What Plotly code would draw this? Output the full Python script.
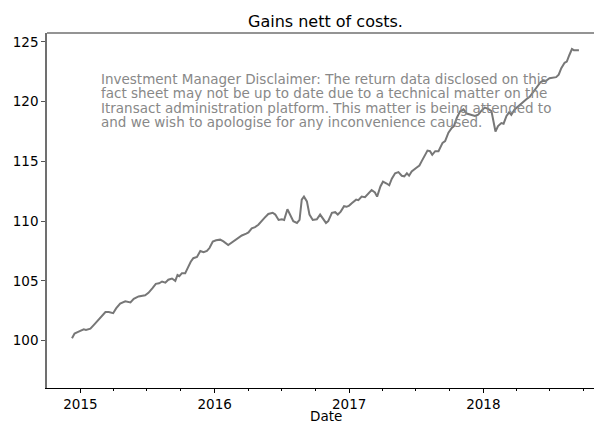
import plotly.graph_objects as go

dates = [
    "2014-12-09", "2014-12-16", "2014-12-27", "2015-01-10", "2015-01-16", "2015-01-28",
    "2015-02-06", "2015-02-15", "2015-02-24", "2015-03-10", "2015-03-19", "2015-03-31",
    "2015-04-08", "2015-04-19", "2015-05-03", "2015-05-17", "2015-05-26", "2015-06-08",
    "2015-06-26", "2015-07-05", "2015-07-16", "2015-07-25", "2015-08-03", "2015-08-11",
    "2015-08-20", "2015-08-28", "2015-09-07", "2015-09-16", "2015-09-22", "2015-09-27",
    "2015-10-04", "2015-10-13", "2015-10-17", "2015-10-28", "2015-11-04", "2015-11-14",
    "2015-11-23", "2015-12-02", "2015-12-11", "2015-12-18", "2015-12-27", "2016-01-05",
    "2016-01-16", "2016-01-25", "2016-02-07", "2016-02-17", "2016-02-26", "2016-03-06",
    "2016-03-15", "2016-03-27", "2016-04-02", "2016-04-11", "2016-04-20", "2016-04-29",
    "2016-05-04", "2016-05-15", "2016-05-26", "2016-06-07", "2016-06-14", "2016-06-23",
    "2016-07-02", "2016-07-08", "2016-07-17", "2016-07-24", "2016-08-02", "2016-08-12",
    "2016-08-19", "2016-08-25", "2016-08-31", "2016-09-08", "2016-09-15", "2016-09-24",
    "2016-10-05", "2016-10-14", "2016-10-21", "2016-10-30", "2016-11-05", "2016-11-15",
    "2016-11-24", "2016-12-01", "2016-12-09", "2016-12-18", "2016-12-25", "2017-01-01",
    "2017-01-08", "2017-01-20", "2017-01-26", "2017-02-04", "2017-02-13", "2017-02-22",
    "2017-03-03", "2017-03-12", "2017-03-18", "2017-03-27", "2017-04-03", "2017-04-13",
    "2017-04-20", "2017-04-27", "2017-05-06", "2017-05-15", "2017-05-24", "2017-05-31",
    "2017-06-07", "2017-06-13", "2017-06-20", "2017-07-02", "2017-07-11", "2017-07-17",
    "2017-07-26", "2017-08-02", "2017-08-09", "2017-08-15", "2017-08-23", "2017-09-01",
    "2017-09-12", "2017-09-19", "2017-09-28", "2017-10-07", "2017-10-13", "2017-10-21",
    "2017-10-30", "2017-11-08", "2017-11-17", "2017-11-30", "2017-12-09", "2017-12-18",
    "2017-12-27", "2018-01-05", "2018-01-14", "2018-01-23", "2018-01-30", "2018-02-03",
    "2018-02-10", "2018-02-19", "2018-02-25", "2018-03-05", "2018-03-12", "2018-03-18",
    "2018-03-27", "2018-04-05", "2018-04-17", "2018-04-28", "2018-05-07", "2018-05-21",
    "2018-05-30", "2018-06-05", "2018-06-12", "2018-06-19", "2018-06-30", "2018-07-09",
    "2018-07-18", "2018-07-25", "2018-08-01", "2018-08-10", "2018-08-16", "2018-08-23",
    "2018-08-30", "2018-09-04", "2018-09-12", "2018-09-18",
]

gains = [
    100.2, 100.6, 100.75, 100.95, 100.9, 101.0,
    101.3, 101.6, 101.9, 102.4, 102.4, 102.3,
    102.7, 103.1, 103.3, 103.2, 103.5, 103.7,
    103.8, 104.0, 104.4, 104.75, 104.8, 104.95,
    104.85, 105.1, 105.2, 105.0, 105.5, 105.4,
    105.65, 105.65, 105.9, 106.6, 106.9, 107.0,
    107.5, 107.4, 107.5, 107.75, 108.3, 108.4,
    108.45, 108.3, 108.0, 108.2, 108.45, 108.6,
    108.8, 108.95, 109.05, 109.4, 109.5, 109.7,
    109.9, 110.25, 110.6, 110.7, 110.55, 110.1,
    110.15, 110.1, 111.0, 110.55, 110.0, 109.85,
    110.1, 111.8, 112.05, 111.65, 110.55, 110.1,
    110.15, 110.55, 110.25, 109.85, 110.0, 110.7,
    110.75, 110.55, 110.8, 111.25, 111.2, 111.3,
    111.5, 111.8, 111.75, 112.05, 112.0, 112.3,
    112.6, 112.4, 112.05, 112.9, 113.3, 113.15,
    113.0, 113.55, 114.0, 114.1, 113.8, 113.75,
    114.0, 113.8, 114.15, 114.45, 114.65, 115.0,
    115.55, 115.9, 115.85, 115.55, 115.85, 115.85,
    116.55, 116.7, 117.4, 117.8, 117.95, 118.65,
    119.2, 119.35, 119.0, 118.9, 118.8, 118.9,
    119.25, 119.5, 119.4, 119.2, 118.2, 117.5,
    117.95, 118.2, 118.15, 118.8, 119.1, 118.9,
    119.35, 119.6, 119.9, 120.2, 120.4, 121.0,
    121.3, 121.6, 121.75, 121.7, 121.95, 122.0,
    122.05, 122.25, 122.8, 123.25, 123.35, 123.9,
    124.4, 124.3, 124.3, 124.3,
]

y_ticks = [100, 105, 110, 115, 120, 125]
x_tick_vals = ["2015-01-01", "2016-01-01", "2017-01-01", "2018-01-01"]
x_tick_text = ["2015", "2016", "2017", "2018"]

title_text = "Gains nett of costs."
x_label = "Date"
disclaimer_lines = [
    "Investment Manager Disclaimer: The return data disclosed on this",
    "fact sheet may not be up to date due to a technical matter on the",
    "Itransact administration platform. This matter is being attended to",
    "and we wish to apologise for any inconvenience caused.",
]

FONT = "DejaVu Sans"
FS = 13.5

fig = go.Figure()
fig.add_trace(go.Scatter(
    x=dates, y=gains, mode="lines",
    line=dict(color="#777777", width=2),
    showlegend=False, hoverinfo="skip",
))

W, H = 594, 425
ml, mr, mt, mb = 47, 0, 33, 37

fig.update_layout(
    width=W, height=H,
    margin=dict(l=ml, r=mr, t=mt, b=mb, autoexpand=False),
    paper_bgcolor="white", plot_bgcolor="white",
    font=dict(family=FONT, size=FS, color="black"),
    showlegend=False,
)

fig.update_xaxes(
    type="date",
    range=["2014-10-02", "2018-10-29"],
    tickvals=x_tick_vals, ticktext=x_tick_text,
    ticks="outside", ticklen=4, tickwidth=1, tickcolor="black",
    showline=True, linecolor="black", linewidth=1.2,
    showgrid=False, zeroline=False, automargin=False,
    tickfont=dict(family=FONT, size=FS, color="black"),
    minor=dict(ticks="outside", ticklen=2, tickwidth=1, tickcolor="black",
               dtick="M3", tick0="2015-01-01", showgrid=False),
)
fig.update_yaxes(
    range=[96.04, 125.74],
    tickvals=y_ticks,
    ticks="outside", ticklen=4, tickwidth=1, tickcolor="#555555",
    showline=True, linecolor="#707070", linewidth=1.5,
    showgrid=False, zeroline=False, automargin=False,
    tickfont=dict(family=FONT, size=FS, color="black"),
)

# top spine (gray)
fig.add_shape(type="line", xref="paper", yref="paper", x0=0, x1=1, y0=1, y1=1,
              line=dict(color="#707070", width=1.5))

plot_w = W - ml - mr

# title
fig.add_annotation(text=title_text, xref="paper", yref="paper",
                   x=(325 - ml) / plot_w, y=1, yshift=(mt - 21),
                   xanchor="center", yanchor="middle", showarrow=False,
                   font=dict(family=FONT, size=16, color="black"))

# x-axis label
fig.add_annotation(text=x_label, xref="paper", yref="paper",
                   x=(325.5 - ml) / plot_w, y=0, yshift=-28,
                   xanchor="center", yanchor="middle", showarrow=False,
                   font=dict(family=FONT, size=FS, color="black"))

# disclaimer lines
line_centers = [79, 93.4, 107.8, 122.2]
for txt, cy in zip(disclaimer_lines, line_centers):
    fig.add_annotation(text=txt, xref="paper", yref="paper",
                       x=(99 - ml) / plot_w, y=1, yshift=-(cy - mt),
                       xanchor="left", yanchor="middle", showarrow=False,
                       font=dict(family=FONT, size=FS, color="#888888"))

fig.write_html(
    "out.html",
    config={"displayModeBar": False},
    post_script="document.body.style.margin='0px';document.body.style.overflow='hidden';",
)
